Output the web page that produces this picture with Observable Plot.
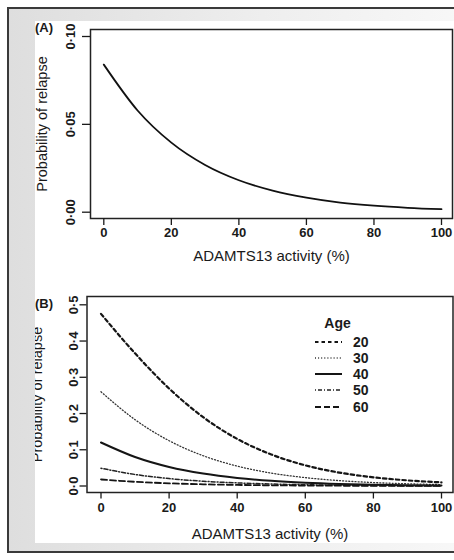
<!DOCTYPE html>
<html><head><meta charset="utf-8">
<script src="https://cdn.jsdelivr.net/npm/d3@7"></script>
<script src="https://cdn.jsdelivr.net/npm/@observablehq/plot@0.6"></script>
<style>
html,body{margin:0;padding:0;width:454px;height:560px;overflow:hidden;background:#fff;font-family:"Liberation Sans",Arial,sans-serif;}
#outer{position:absolute;left:7px;top:7px;width:460px;height:542px;border:2px solid #3a3a3a;border-right:none;background:linear-gradient(to right,#dedede,#eeeeee 55%,#f8f8f8);}
#inner{position:absolute;left:35px;top:21px;width:419px;height:522px;background:#fff;overflow:hidden;}
#inner svg{position:absolute;max-width:none !important;width:454px !important;}
.tag{position:absolute;font-size:13px;font-weight:bold;line-height:13px;color:#1a1a1a;}
#legend{position:absolute;left:315px;top:316px;color:#1a1a1a;}
#legend .ttl{width:45px;text-align:center;font-size:14px;font-weight:bold;line-height:14px;height:17.6px;}
#legend .row{display:flex;align-items:center;height:16.25px;}
#legend .row span{margin-left:11px;font-size:14px;font-weight:bold;line-height:16.25px;}
</style></head>
<body>
<div id="outer"></div>
<div id="inner"></div>
<div class="tag" style="left:35px;top:21px;">(A)</div>
<div class="tag" style="left:35px;top:296.5px;">(B)</div>
<div id="legend"></div>
<script>
// ---- data ----
const activity = [0, 10, 20, 30, 40, 50, 60, 70, 80, 90, 100];
const probA = [0.084, 0.0579, 0.0396, 0.0269, 0.0182, 0.0123, 0.0083, 0.0055, 0.0037, 0.0025, 0.0017];
const ages = [20, 30, 40, 50, 60];
const probAge20 = [0.475, 0.366, 0.269, 0.190, 0.130, 0.087, 0.057, 0.037, 0.024, 0.0155, 0.0100];
const probAge30 = [0.260, 0.183, 0.125, 0.0835, 0.0549, 0.0357, 0.0231, 0.0148, 0.0095, 0.0061, 0.0039];
const probAge40 = [0.120, 0.080, 0.0525, 0.0342, 0.0221, 0.0142, 0.0091, 0.0058, 0.0037, 0.0024, 0.0015];
const probAge50 = [0.049, 0.0318, 0.0205, 0.0132, 0.0085, 0.0054, 0.0035, 0.0022, 0.0014, 0.0009, 0.0006];
const probAge60 = [0.018, 0.0116, 0.0074, 0.0047, 0.0030, 0.0019, 0.0012, 0.0008, 0.0005, 0.0003, 0.0002];
const xTicks = [0, 20, 40, 60, 80, 100];
const yTicksA = [0, 0.05, 0.10];
const yTickLabelsA = ["0·00", "0·05", "0·10"];
const yTicksB = [0, 0.1, 0.2, 0.3, 0.4, 0.5];
const yTickLabelsB = ["0·0", "0·1", "0·2", "0·3", "0·4", "0·5"];
const xTitle = "ADAMTS13 activity (%)";
const yTitle = "Probability of relapse";
const legendTitle = "Age";

// ---- styles ----
const ageStyles = {
  20: {dash: "3.5,3", width: 2.2, color: "#151515"},
  30: {dash: "1,2.1", width: 1.3, color: "#333"},
  40: {dash: null, width: 2, color: "#151515"},
  50: {dash: "1,2,4,2", width: 1.5, color: "#222"},
  60: {dash: "6,3", width: 1.8, color: "#151515"}
};
const FONT = "'Liberation Sans', Arial, sans-serif";
const probByAge = {20: probAge20, 30: probAge30, 40: probAge40, 50: probAge50, 60: probAge60};

const rowsA = activity.map((x, i) => ({x, p: probA[i]}));
const rowsB = ages.flatMap(age => activity.map((x, i) => ({age, x, p: probByAge[age][i]})));

const inner = document.getElementById("inner");

const plotA = Plot.plot({
  width: 454, height: 270,
  marginTop: 29, marginBottom: 52, marginLeft: 90, marginRight: 2,
  style: {background: "transparent", fontFamily: FONT, color: "#1a1a1a", overflow: "visible"},
  x: {domain: [0, 100], insetLeft: 13.3, insetRight: 11},
  y: {domain: [0, 0.1], insetTop: 7, insetBottom: 6.3},
  marks: [
    Plot.frame({stroke: "#222", strokeWidth: 1.5}),
    Plot.axisX({ticks: xTicks, tickSize: 7, tickPadding: 2, fontSize: 13, fontWeight: "bold", label: null, strokeWidth: 1.3}),
    Plot.axisX({ticks: [], tickSize: 0, label: xTitle, labelAnchor: "center", labelOffset: 42, labelArrow: "none", fontSize: 15}),
    Plot.axisY({ticks: yTicksA, tickFormat: d => yTickLabelsA[yTicksA.indexOf(d)], tickRotate: -90, tickSize: 8, tickPadding: 8, fontSize: 13, fontWeight: "bold", label: null, strokeWidth: 1.3}),
    Plot.axisY({ticks: [], tickSize: 0, label: yTitle, labelAnchor: "center", labelOffset: 53.5, labelArrow: "none", fontSize: 14.5}),
    Plot.line(rowsA, {x: "x", y: "p", stroke: "#111", strokeWidth: 1.8, curve: "monotone-x"})
  ]
});
plotA.style.left = "-35px"; plotA.style.top = "-21px"; plotA.style.height = "270px";
inner.appendChild(plotA);

const plotB = Plot.plot({
  width: 454, height: 280,
  marginTop: 26, marginBottom: 58, marginLeft: 86.5, marginRight: 1.5,
  style: {background: "transparent", fontFamily: FONT, color: "#1a1a1a", overflow: "visible"},
  x: {domain: [0, 100], insetLeft: 14, insetRight: 11.5},
  y: {domain: [0, 0.5], insetTop: 8.3, insetBottom: 6.5},
  marks: [
    Plot.frame({stroke: "#222", strokeWidth: 1.5}),
    Plot.axisX({ticks: xTicks, tickSize: 6.5, tickPadding: 3.5, fontSize: 13, fontWeight: "bold", label: null, strokeWidth: 1.3}),
    Plot.axisX({ticks: [], tickSize: 0, label: xTitle, labelAnchor: "center", labelOffset: 46, labelArrow: "none", fontSize: 15}),
    Plot.axisY({ticks: yTicksB, tickFormat: d => yTickLabelsB[yTicksB.indexOf(d)], tickRotate: -90, tickSize: 7, tickPadding: 2.5, fontSize: 13, fontWeight: "bold", label: null, strokeWidth: 1.3}),
    Plot.axisY({ticks: [], tickSize: 0, label: yTitle, labelAnchor: "center", labelOffset: 55.5, labelArrow: "none", fontSize: 14.5}),
    ...ages.map(age => Plot.line(rowsB.filter(d => d.age === age), {
      x: "x", y: "p", stroke: ageStyles[age].color, strokeWidth: ageStyles[age].width,
      strokeDasharray: ageStyles[age].dash || undefined, curve: "monotone-x"
    }))
  ]
});
plotB.style.left = "-35px"; plotB.style.top = "249px"; plotB.style.height = "280px";
inner.appendChild(plotB);

// legend
const legend = document.getElementById("legend");
const ttl = document.createElement("div");
ttl.className = "ttl"; ttl.textContent = legendTitle;
legend.appendChild(ttl);
for (const age of ages) {
  const s = ageStyles[age];
  const row = document.createElement("div");
  row.className = "row";
  row.innerHTML = `<svg width="27" height="6"><line x1="0" x2="27" y1="3" y2="3" stroke="${s.color}" stroke-width="${s.width}" ${s.dash ? `stroke-dasharray="${s.dash}"` : ""}/></svg><span>${age}</span>`;
  legend.appendChild(row);
}
</script>
</body></html>
